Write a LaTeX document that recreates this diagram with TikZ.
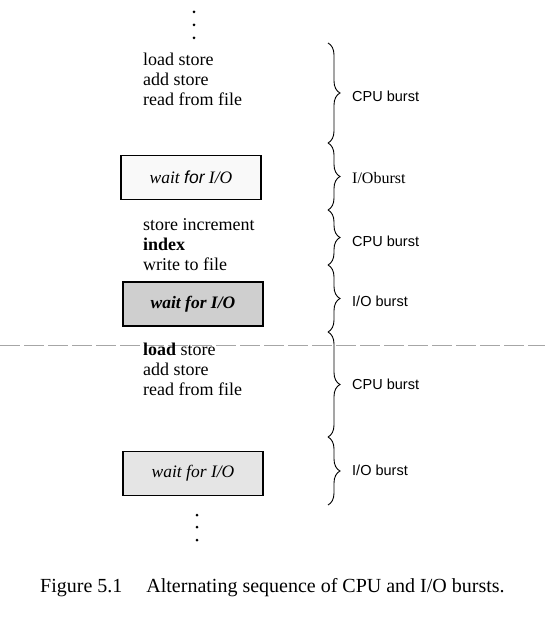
\documentclass[tikz,border=0pt]{standalone}
\usepackage{fontspec}
\setmainfont{Liberation Serif}
\setsansfont{Liberation Sans}
\usetikzlibrary{decorations.pathreplacing}

\tikzset{
	code/.style={anchor=base west, align=left, inner sep=0pt, font=\fontsize{18}{20}\selectfont},
	iobox/.style={draw, line width=1.1pt, minimum width=140pt, minimum height=44pt, inner sep=0pt, font=\fontsize{17.5}{20}\selectfont\itshape},
	burst/.style={decorate, decoration={brace, amplitude=12pt}, line width=0.9pt},
	lbl/.style={anchor=west, inner sep=0pt, font=\sffamily\fontsize{14.5}{17}\selectfont},
	vdot/.style={circle, fill, inner sep=0pt, minimum size=3pt}
}

\begin{document}
\begin{tikzpicture}[x=1pt, y=-1pt]
				\useasboundingbox (0,0) rectangle (545,617);
				% separator
				\coordinate (dl) at (0,345);
				\coordinate (dr) at (545,345);
				\draw[gray!70, line width=0.5pt, dash pattern=on 20pt off 4pt] (dl) -- (dr);
				% ellipsis
				\foreach \y in {12,25,38} \node[vdot] at (194,\y) {};
				\foreach \y in {515,527,540} \node[vdot] at (197,\y) {};
				% code and waits (base is the last line)
				\node[code] (cpua) at (143,106) {load store\\add store\\read from file};
				\node[iobox, fill=gray!5] (ioa) at (191,177.5) {wait \textsf{for} I/O};
				\node[code] (cpub) at (143,270) {store increment\\\textbf{index}\\write to file};
				\node[iobox, fill=gray!38, font=\fontsize{17.5}{20}\selectfont\bfseries\itshape] (iob) at (193,304) {wait for I/O};
				\node[code] (cpuc) at (143,395) {\textbf{load} store\\add store\\read from file};
				\node[iobox, fill=gray!20] (ioc) at (193,473.5) {wait for I/O};
				% braces
				\coordinate (j0) at (328,43);
				\coordinate (j1) at (328,143);
				\coordinate (j2) at (328,210);
				\coordinate (j3) at (328,265);
				\coordinate (j4) at (328,332);
				\coordinate (j5) at (328,437);
				\coordinate (j6) at (328,505);
				\draw[burst] (j0) -- (j1);
				\draw[burst] (j1) -- (j2);
				\draw[burst] (j2) -- (j3);
				\draw[burst] (j3) -- (j4);
				\draw[burst] (j4) -- (j5);
				\draw[burst] (j5) -- (j6);
				\node[lbl] (lcpua) at (352,96) {CPU burst};
				\node[lbl, font=\fontsize{16}{18}\selectfont] (lioa) at (352,178) {I/Oburst};
				\node[lbl] (lcpub) at (352,241) {CPU burst};
				\node[lbl] (liob) at (352,301) {I/O burst};
				\node[lbl] (lcpuc) at (352,384) {CPU burst};
				\node[lbl] (lioc) at (352,470) {I/O burst};
				% caption
				\node[anchor=west, inner sep=0pt, font=\fontsize{20}{24}\selectfont] (cap) at (40,588) {Figure 5.1\hspace{1.2em}Alternating sequence of CPU and I/O bursts.};
			\end{tikzpicture}
\end{document}
